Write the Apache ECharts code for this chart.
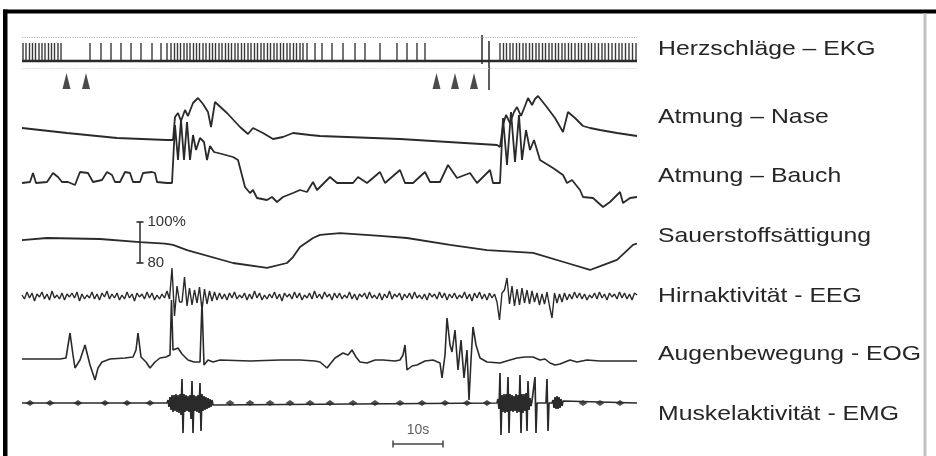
<!DOCTYPE html>
<html><head><meta charset="utf-8">
<script src="https://cdn.jsdelivr.net/npm/echarts@6/dist/echarts.min.js"></script>
<style>html,body{margin:0;padding:0;background:#fff}#c{width:936px;height:456px}</style>
</head><body><div id="c"></div>
<script>
// ---------- DATA (time in seconds, trace values in arbitrary units) ----------
const traceNames = ['Herzschläge – EKG','Atmung – Nase','Atmung – Bauch','Sauerstoffsättigung','Hirnaktivität - EEG','Augenbewegung - EOG','Muskelaktivität - EMG'];

const ekgBeatTimes = [
 0.2,0.8,1.5,2.1,2.7,3.4,4.0,4.6,5.3,5.9,6.5,7.2,7.8,
 13.6,15.8,17.8,19.8,21.8,23.8,26.0,27.8,29.0,
 29.8,30.5,31.1,31.7,32.4,33.0,33.6,34.3,34.9,35.5,36.2,36.8,37.5,38.1,38.7,39.4,40.0,40.7,41.3,41.9,42.6,43.2,43.9,44.5,45.2,45.8,46.5,47.1,47.8,48.4,49.1,49.7,50.4,51.0,51.7,52.3,53.0,53.6,54.3,54.9,55.6,56.2,
 57.0,58.6,60.0,62.0,64.2,66.6,68.6,71.6,75.0,77.0,79.0,80.6,
 95.6,96.3,96.9,97.6,98.2,98.9,99.5,100.2,100.8,101.5,102.1,102.8,103.4,104.1,104.7,105.4,106.0,106.7,107.3,108.0,108.6,109.3,109.9,110.6,111.3,111.9,112.6,113.3,113.9,114.6,115.3,116.0,116.6,117.3,118.0,118.7,119.4,120.0,120.7,121.4,122.1,122.8
];
const ekgBeatHeight = 18;
const ekgEventMarkers = [[92, 26, -3], [93.4, 20, -29]]; // [time, top, bottom]
const ekgGuideLevels = [24, -7];
const apneaArrowTimes = [8.9, 12.8, 82.9, 86.6, 90.4];
const apneaArrowLevel = -20;

const nasePoints = [[0,22],[9,17],[19,12],[29,10],[30.2,10],[30.6,33],[31.2,37],[31.8,29],[32.6,40],[33.2,34],[34.2,47],[35.2,52],[36.2,46],[37.2,38],[37.8,23],[38.6,48],[41,37],[43.6,23],[45.2,16],[46.2,22],[48.2,17],[50.2,11],[52.2,13],[54.2,17],[57.6,15],[59.6,14],[75.6,11],[95,5],[95.6,3],[96.2,25],[96.8,35],[97.6,27],[98.4,38],[99,43],[99.8,34],[100.6,44],[101.2,52],[102,45],[102.6,51],[103.2,54],[104.8,44],[106.6,32],[108.2,18],[109.2,38],[110.6,32],[112.2,24],[113.6,22],[115.6,20],[119,17],[123,14]];

const bauchPoints = [[0,29],[1.6,30],[2.2,39],[2.8,29],[5,30],[6.2,39],[7.2,35],[8,30],[9.2,30],[10.6,27],[11.6,40],[13.2,39],[14.2,30],[16,32],[17,40],[18,37],[18.6,30],[19.6,30],[20.6,40],[21.6,39],[22.2,30],[23.6,30],[24.2,39],[26,40],[26.6,39],[27,30],[29,29],[30,29],[30.6,87],[31.2,52],[31.8,92],[32.4,52],[33,90],[33.6,52],[34.2,77],[34.8,62],[35.6,74],[36.4,70],[37,52],[37.6,66],[38.4,60],[40,58],[42.2,55],[43.2,52],[44.6,25],[45.6,19],[46.2,22],[47,14],[49,12],[50,15],[51,10],[52.2,15],[54.2,19],[55.6,22],[57,20],[58.2,30],[59,22],[61.6,35],[63,29],[66.2,29],[67.2,35],[69,29],[71.6,40],[72.6,29],[75.6,42],[76.6,29],[78.2,29],[80.6,40],[81.6,30],[83.6,30],[85.2,47],[87,34],[89.6,39],[91,29],[93.6,42],[94.2,29],[95.6,29],[96.2,94],[97,47],[97.8,100],[98.6,50],[99.4,97],[100,52],[100.8,82],[101.6,62],[102.4,72],[103.6,52],[106.2,44],[108.2,37],[109,29],[110,32],[111.6,22],[112.2,15],[114.2,14],[116.2,5],[117.6,10],[119.6,20],[120.2,9],[121.6,14],[123,15]];

const spo2Points = [[0,91.2],[5,92.2],[15.6,91.7],[23.6,90.2],[28.6,89.5],[30.2,88.8],[33,86.3],[42.2,80],[49,77.6],[53,80],[54.2,82.9],[55.6,87.8],[58.2,92.2],[59.6,93.7],[63.6,94.6],[71.6,93.2],[77,92.2],[85.6,88.8],[93,86.3],[102.2,84.9],[109,80],[113.6,76.6],[116.2,79],[119,81.5],[122.2,88.8],[123,89.5]];
const spo2ScaleTime = 23.6;
const spo2ScaleValues = [80, 100];
const spo2ScaleLabels = ['80', '100%'];

const eegStep = 0.5;
const eegValues = [
 1,-3,4,-2,3,-5,2,-1,4,-3, 2,-4,5,-2,1,-3,3,-4,2,-1, 3,-2,4,-5,2,-3,1,-2,4,-3, 2,-4,3,-1,5,-3,2,-2,3,-4,
 1,-3,4,-2,2,-5,3,-1,2,-3, 4,-2,3,-4,1,-3,2,-2,5,-3, 28,-20,10,-6,-6,19,-10,8,-9,6, -7,9,-14,7,-8,5,-5,4,-4,3,
 -3,2,-4,3,-2,4,-3,1,-2,3, -4,2,-3,5,-2,3,-4,1,-3,2, -2,4,-3,2,-5,3,-1,2,-3,4, -2,3,-4,1,-2,3,-3,5,-2,2,
 -3,4,-1,2,-4,3,-2,3,-3,1, -2,4,-3,2,-4,2,-1,3,-3,4, -2,1,-3,3,-4,2,-2,5,-3,2, -1,3,-4,2,-2,3,-3,4,-2,1,
 -3,2,-4,3,-1,2,-3,4,-2,3, -4,2,-2,3,-3,1,-2,4,-3,2, -5,3,-2,4,-3,2,-4,3,-2,2, -6,-24,3,6,18,-8,10,-10,7,-9,
 8,-7,6,-8,5,-6,3,-9,2,-8, 4,-10,-22,3,-7,2,-6,3,-4,2, -3,4,-2,3,-3,2,-4,1,-2,3, -3,4,-2,2,-4,3,-1,2,-3,4,
 -2,3,-3,2,-4,3,1
];

const eogPoints = [[0,1],[7.6,1],[8.8,2],[9.6,27],[10.2,5],[10.6,-8],[11.6,0],[12.6,15],[13.6,-5],[14.6,-20],[15.2,-8],[16,-2],[17.6,1],[20.6,2],[22.2,3],[22.8,10],[23.2,27],[23.8,3],[24.8,-2],[25.6,-8],[26.6,-2],[27.6,2],[28.8,3],[29.6,5],[29.9,60],[30.2,10],[31.2,12],[32,6],[33.2,0],[34.4,-2],[35.6,-2],[36,58],[36.4,-5],[37.2,0],[38.2,-2],[39.6,0],[45.6,-1],[51.6,0],[55.6,0],[58.6,-1],[59.6,-2],[61,-8],[62.6,2],[64.2,7],[65.2,5],[66,10],[66.8,3],[67.6,-2],[69,-3],[70.6,0],[72.2,0],[74.6,-1],[75.6,0],[76.2,5],[76.6,15],[77,-10],[78,-6],[79,-5],[80.6,-1],[82.2,0],[83.6,-3],[84,-18],[84.6,5],[85,42],[85.6,15],[86,8],[86.6,30],[87.2,-10],[87.8,20],[88.4,-18],[89,10],[89.4,-40],[89.8,0],[90.2,33],[90.8,15],[91.6,2],[93,-2],[95.6,-3],[97.6,0],[99,2],[100.6,3],[102.2,3],[103.6,0],[104.6,1],[105.6,-3],[106.6,-5],[107.6,-4],[108.6,-2],[109.6,0],[111,-2],[113,0],[115.6,-1],[123,-1]];

const emgBurst1 = [[29.0,0],[29.2,3],[29.4,-4],[29.6,6],[29.8,-7],[30.0,8],[30.2,-9],[30.4,8],[30.6,-8],[30.8,9],[31.0,-9],[31.2,8],[31.4,-10],[31.6,9],[31.8,-12],[32.0,24],[32.2,-30],[32.4,9],[32.6,-9],[32.8,8],[33.0,-8],[33.2,7],[33.4,-9],[33.6,8],[33.8,-16],[34.0,22],[34.2,-30],[34.4,8],[34.6,-8],[34.8,7],[35.0,-9],[35.2,8],[35.4,-10],[35.6,20],[35.8,-28],[36.0,9],[36.2,-8],[36.4,7],[36.6,-7],[36.8,6],[37.0,-6],[37.2,5],[37.4,-5],[37.6,4],[37.8,-4],[38.0,3],[38.2,-2],[38.4,0]];
const emgBurst2 = [[95.0,0],[95.2,4],[95.4,-6],[95.6,30],[95.8,-32],[96.0,8],[96.2,-9],[96.4,9],[96.6,-10],[96.8,9],[97.0,-9],[97.2,26],[97.4,-30],[97.6,9],[97.8,-8],[98.0,8],[98.2,-9],[98.4,7],[98.6,-8],[98.8,9],[99.0,-10],[99.2,8],[99.4,-9],[99.6,28],[99.8,-30],[100.0,9],[100.2,-10],[100.4,9],[100.6,-8],[100.8,10],[101.0,-28],[101.2,22],[101.4,-7],[101.6,5],[101.8,-3],[102.0,2],[102.4,0],[102.6,26],[102.8,-30],[103.0,0],[104.8,0],[105.0,24],[105.2,-28],[105.4,0],[106.0,0],[106.2,3],[106.4,-5],[106.6,6],[106.8,-6],[107.0,7],[107.2,-6],[107.4,6],[107.6,-5],[107.8,4],[108.0,-3],[108.2,2],[108.4,0]];
const emgArtifactTimes = [1.6,5.6,11.2,16.6,21,25.6,41.6,45.6,49.6,53.6,57.6,61.6,66.2,70.6,75.6,80,84.6,89,93,112.2,115.6,119.6];

const timeScaleBar = [74.2, 84.2];
const timeScaleLabel = '10s';
const timeRange = [0, 123];

// ---------- LAYOUT ----------
const L = 22, W = 615;
const layout = { // top, height, yMin, yMax
  ekg: [30, 62, -31, 31], nase: [90, 60, 0, 60], bauch: [105, 107, 0, 107],
  spo2: [211.75, 71.75, 70, 105], eeg: [266, 60, -30, 30], eog: [295, 110, -45, 65],
  emg: [370, 66, -33, 33], scale: [432, 30, -15, 15]
};
const keys = Object.keys(layout);
const gi = k => keys.indexOf(k);
const INK = '#2a2a2a';
const labelCenters = [49.5, 117.5, 176, 236.5, 296, 354, 414];
const FONT = '"Liberation Sans", Arial, sans-serif';

const lineS = (k, data, w, extra) => Object.assign({
  type: 'line', xAxisIndex: gi(k), yAxisIndex: gi(k), data: data, symbol: 'none',
  lineStyle: { color: INK, width: w }, silent: true, z: 3
}, extra || {});

const series = [];
series.push(lineS('ekg', [[timeRange[0],0],[timeRange[1],0]], 2.6, {
  markLine: { silent: true, symbol: 'none', label: { show: false },
    data: ekgGuideLevels.map((v, i) => ({ yAxis: v, lineStyle: { type: 'dotted', color: i ? '#d2d2d2' : '#b4b4b4', width: 1.2 } })) }
}));
series.push({ type: 'bar', xAxisIndex: gi('ekg'), yAxisIndex: gi('ekg'), barWidth: 1.4,
  data: ekgBeatTimes.map(t => [t, ekgBeatHeight]), itemStyle: { color: '#3a3a3a' }, silent: true });
ekgEventMarkers.forEach(m => series.push(lineS('ekg', [[m[0], m[1]], [m[0], m[2]]], 1.5)));
series.push({ type: 'scatter', xAxisIndex: gi('ekg'), yAxisIndex: gi('ekg'), symbol: 'triangle', symbolSize: [8, 16],
  data: apneaArrowTimes.map(t => [t, apneaArrowLevel]), itemStyle: { color: '#1e1e1e' }, silent: true });
series.push(lineS('nase', nasePoints, 1.8));
series.push(lineS('bauch', bauchPoints, 1.8));
series.push(lineS('spo2', spo2Points, 1.8));
series.push(lineS('spo2', spo2ScaleValues.map(v => [spo2ScaleTime, v]), 1.5, {
  symbol: 'rect', symbolSize: [7, 1.6], showSymbol: true, itemStyle: { color: INK },
  label: { show: true, position: 'right', distance: 4, color: '#333', fontSize: 15, fontFamily: FONT,
    formatter: p => spo2ScaleLabels[p.dataIndex] }
}));
series.push(lineS('eeg', eegValues.map((v, i) => [i * eegStep, v]), 1.4));
series.push(lineS('eog', eogPoints, 1.6));
series.push(lineS('emg', [[timeRange[0],0]].concat(emgBurst1, emgBurst2, [[timeRange[1],0]]), 1.7));
series.push({ type: 'scatter', xAxisIndex: gi('emg'), yAxisIndex: gi('emg'), symbol: 'diamond', symbolSize: [9, 6],
  data: emgArtifactTimes.map(t => [t, 0]), itemStyle: { color: '#222' }, silent: true });
series.push(lineS('scale', timeScaleBar.map(t => [t, 0]), 1.5, {
  symbol: 'rect', symbolSize: [1.5, 7], showSymbol: true, itemStyle: { color: '#444' }, lineStyle: { color: '#444', width: 1.5 }
}));
series.push({ type: 'scatter', xAxisIndex: gi('scale'), yAxisIndex: gi('scale'), symbolSize: 0,
  data: [[(timeScaleBar[0] + timeScaleBar[1]) / 2, 0]], silent: true,
  label: { show: true, position: 'top', distance: 7, formatter: timeScaleLabel, color: '#333', fontSize: 14, fontFamily: FONT } });

const graphic = [
  { type: 'rect', shape: { x: 3, y: 9.5, width: 933, height: 4 }, style: { fill: '#000' }, silent: true },
  { type: 'rect', shape: { x: 3, y: 9.5, width: 4.5, height: 447 }, style: { fill: '#000' }, silent: true },
  { type: 'rect', shape: { x: 923.5, y: 13.5, width: 3, height: 443 }, style: { fill: '#c2c2c2' }, silent: true }
].concat(traceNames.map((n, i) => ({
  type: 'text', x: 658, y: labelCenters[i], scaleX: 1.18, silent: true,
  style: { text: n, font: '21px ' + FONT, fill: '#262626', verticalAlign: 'middle', align: 'left' }
})));

const chart = echarts.init(document.getElementById('c'), null, { renderer: 'canvas' });
chart.setOption({
  animation: false, backgroundColor: '#fff',
  grid: keys.map(k => ({ left: L, width: W, top: layout[k][0], height: layout[k][1] })),
  xAxis: keys.map((k, i) => ({ gridIndex: i, type: 'value', min: timeRange[0], max: timeRange[1], show: false })),
  yAxis: keys.map((k, i) => ({ gridIndex: i, type: 'value', min: layout[k][2], max: layout[k][3], show: false })),
  series: series,
  graphic: graphic
});
</script>
</body></html>
